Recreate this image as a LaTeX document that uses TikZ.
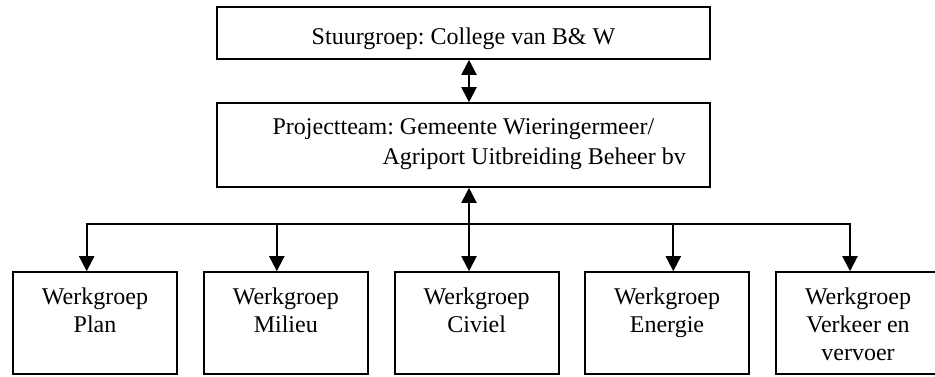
\documentclass[tikz,border=0pt]{standalone}
\usepackage{fontspec}
\setmainfont{Liberation Serif}
\usepackage{tikz}
\usetikzlibrary{
    positioning,
    arrows.meta,
    calc
}
\frenchspacing
\tikzset{
    orgbox/.style={
        rectangle, draw, line width=0.8pt, inner sep=0pt
    },
    leadbox/.style={
        orgbox, minimum width=246.5pt
    },
    groupbox/.style={
        orgbox, minimum width=82pt, minimum height=51pt
    },
    boxtext/.style={
        inner sep=0pt, align=center
    }
}

\begin{document}
\begin{tikzpicture}[
    x=0.5pt, y=-0.5pt,
    every node/.style={font=\fontsize{12}{14}\selectfont},
    >={Triangle[length=7.5pt, width=7.5pt]},
    twoway/.style={<->, line width=1pt},
    oneway/.style={->, line width=1pt}
  ]
    \useasboundingbox (0,0) rectangle (935,376);

    % top of the organisation
    \node[leadbox, minimum height=26pt] (stuur) at (463.5,33) {};
    \node[boxtext, below=10.75pt of stuur.north] (stuur_text) {Stuurgroep: College van B\& W};

    \node[leadbox, minimum height=42pt] (team) at (463.5,145) {};
    \node[boxtext, align=left, below right=7.8pt and 28pt of team.north west] (team_text) {Projectteam: Gemeente Wieringermeer/\\[1pt]\hspace*{55pt}Agriport Uitbreiding Beheer bv};

    % working groups
    \node[groupbox] (plan) at (95,323) {};
    \node[boxtext, below=8.3pt of plan.north] (plan_text) {Werkgroep\\Plan};

    \node[groupbox] (milieu) at (285.8,323) {};
    \node[boxtext, below=8.3pt of milieu.north] (milieu_text) {Werkgroep\\Milieu};

    \node[groupbox] (civiel) at (476.7,323) {};
    \node[boxtext, below=8.3pt of civiel.north] (civiel_text) {Werkgroep\\Civiel};

    \node[groupbox] (energie) at (667,323) {};
    \node[boxtext, below=8.3pt of energie.north] (energie_text) {Werkgroep\\Energie};

    \node[groupbox] (verkeer) at (858,323) {};
    \node[boxtext, below=8.3pt of verkeer.north] (verkeer_text) {Werkgroep\\Verkeer en\\vervoer};

    \coordinate (bus) at (469,224);

    \draw[twoway] (stuur.south -| bus) -- (team.north -| bus);
    \draw[twoway] (team.south -| bus) -- (civiel.north -| bus);
    \draw[oneway] (bus) -| ([xshift=-4.15pt]plan.north);
    \draw[oneway] (bus) -| ([xshift=-4.5pt]milieu.north);
    \draw[oneway] (bus) -| ([xshift=3.15pt]energie.north);
    \draw[oneway] (bus) -| ([xshift=-4pt]verkeer.north);

\end{tikzpicture}
\end{document}
